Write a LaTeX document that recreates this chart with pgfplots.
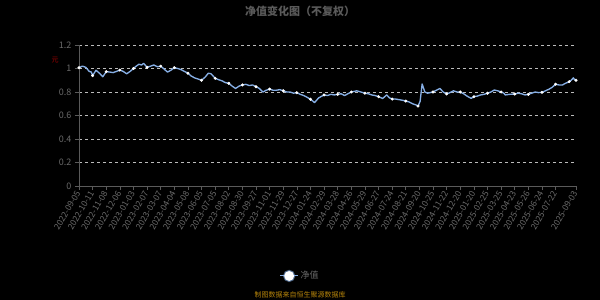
\documentclass[border=0pt]{standalone}
\usepackage{fontspec}
\setmainfont{Noto Sans CJK SC}
\usepackage{pgfplots}
\pgfplotsset{compat=1.18}
\definecolor{lineblue}{HTML}{86AEE4}
\definecolor{tickgray}{HTML}{6A6A6A}
\definecolor{axgray}{HTML}{5A5A5A}
\definecolor{gridgray}{HTML}{BBBBBB}
\definecolor{gold}{HTML}{B8860B}
\definecolor{darkred}{HTML}{A00000}
\begin{document}
\begin{tikzpicture}
\fill[black,use as bounding box] (0pt,0pt) rectangle (600pt,300pt);
\node[text=axgray,font=\fontsize{11}{11}\selectfont\bfseries] at (300pt,289pt) {净值变化图（不复权）};
\node[text=darkred,font=\fontsize{7}{7}\selectfont] at (55pt,240pt) {元};
\node[text=gold,font=\fontsize{7}{7}\selectfont] at (300pt,5pt) {制图数据来自恒生聚源数据库};
\begin{axis}[
  at={(79pt,114pt)}, anchor=south west,
  scale only axis, width=497pt, height=141pt,
  xmin=0, xmax=36.5, ymin=0, ymax=1.2,
  axis x line=bottom, axis y line=left,
  axis line style={-, axgray, line width=0.8pt},
  tick align=outside, major tick length=4pt,
  tick style={axgray, line width=0.6pt},
  xtick={0,1,2,3,4,5,6,7,8,9,10,11,12,13,14,15,16,17,18,19,20,21,22,23,24,25,26,27,28,29,30,31,32,33,34,35,36.5},
  xticklabels={2022-09-05,2022-10-11,2022-11-08,2022-12-06,2023-01-03,2023-02-07,2023-03-07,2023-04-04,2023-05-08,2023-06-05,2023-07-05,2023-08-02,2023-08-30,2023-09-27,2023-11-01,2023-11-29,2023-12-27,2024-01-24,2024-02-29,2024-03-28,2024-04-26,2024-05-29,2024-06-27,2024-07-24,2024-08-21,2024-09-20,2024-10-25,2024-11-22,2024-12-20,2025-01-20,2025-02-25,2025-03-25,2025-04-23,2025-05-26,2025-06-24,2025-07-22,2025-09-03},
  x tick label style={rotate=60, anchor=east, font=\fontsize{8.5}{8.5}\selectfont, text=tickgray, inner sep=1.5pt},
  ytick={0,0.2,0.4,0.6,0.8,1,1.2},
  yticklabels={0,0.2,0.4,0.6,0.8,1,1.2},
  y tick label style={font=\fontsize{9}{9}\selectfont, text=tickgray},
  ymajorgrids, grid style={gridgray, dashed, line width=0.6pt},
  legend style={at={(0.445,-0.638)}, anchor=center, draw=none, fill=none, text=tickgray, font=\fontsize{9}{9}\selectfont},
  legend image code/.code={
    \draw[lineblue, line width=1pt] (0pt,0pt) -- (18pt,0pt);
    \fill[lineblue, opacity=0.5] (9pt,0pt) circle (5.5pt);
    \fill[white] (9pt,0pt) circle (4.2pt);
  },
]
\addplot[lineblue, line width=1.35pt, mark=none, line join=round] coordinates {
(0,1.007) (0.25,1.02) (0.5,1.01) (0.75,0.975) (0.9,0.97) (1,0.94) (1.25,0.985) (1.5,0.96) (1.75,0.93)
(2,0.973) (2.25,0.97) (2.5,0.965) (2.75,0.975) (3,0.987) (3.25,0.975) (3.5,0.955) (3.75,0.975)
(4,1.0) (4.2,1.02) (4.4,1.036) (4.6,1.03) (4.75,1.044) (5,1.01) (5.25,1.02) (5.5,1.03) (5.75,1.015)
(6,1.02) (6.25,0.995) (6.5,0.97) (6.75,0.985) (7,1.007) (7.25,1.0) (7.5,0.99) (7.75,0.975)
(8,0.96) (8.25,0.935) (8.5,0.92) (8.75,0.91) (9,0.90) (9.25,0.925) (9.5,0.96) (9.7,0.955)
(10,0.917) (10.25,0.905) (10.5,0.895) (10.75,0.88) (11,0.874) (11.25,0.85) (11.5,0.83) (11.75,0.85)
(12,0.86) (12.25,0.865) (12.5,0.855) (12.75,0.86) (13,0.845) (13.25,0.83) (13.5,0.80) (13.75,0.815)
(14,0.825) (14.25,0.815) (14.5,0.815) (14.75,0.82) (15,0.81) (15.25,0.80) (15.5,0.80) (15.75,0.79)
(16,0.794) (16.25,0.78) (16.5,0.77) (16.75,0.755) (17,0.738) (17.15,0.725) (17.3,0.71) (17.6,0.75)
(18,0.775) (18.25,0.77) (18.5,0.78) (18.75,0.775) (19,0.78) (19.25,0.785) (19.5,0.77) (19.75,0.785)
(20,0.80) (20.4,0.81) (20.7,0.80) (21,0.79) (21.25,0.785) (21.5,0.775) (21.75,0.77)
(22,0.76) (22.3,0.745) (22.6,0.775) (22.8,0.75) (23,0.74) (23.25,0.74) (23.5,0.735) (23.75,0.73)
(24,0.723) (24.25,0.715) (24.5,0.70) (24.75,0.69) (24.9,0.68) (25.05,0.72) (25.2,0.868) (25.4,0.80)
(25.6,0.79) (26,0.80) (26.25,0.815) (26.5,0.83) (26.75,0.80) (27,0.783) (27.25,0.795) (27.5,0.81) (27.75,0.80)
(28,0.80) (28.25,0.785) (28.5,0.765) (28.8,0.746) (29,0.76) (29.25,0.765) (29.5,0.775) (29.75,0.78)
(30,0.79) (30.25,0.80) (30.5,0.817) (30.75,0.81) (31,0.80) (31.2,0.79) (31.3,0.775) (31.6,0.78)
(32,0.783) (32.25,0.79) (32.5,0.785) (32.75,0.775) (33,0.78) (33.25,0.79) (33.5,0.80) (33.75,0.795)
(34,0.797) (34.25,0.81) (34.5,0.823) (34.75,0.84) (35,0.866) (35.25,0.86) (35.5,0.86) (35.75,0.875)
(36,0.888) (36.15,0.90) (36.3,0.92) (36.4,0.905) (36.5,0.90)
};
\addlegendentry{净值}
\addplot[only marks, mark=*, mark size=1.3pt, mark options={fill=white, draw=white}, forget plot] coordinates {
(0,1.007) (1,0.94) (2,0.973) (3,0.987) (4,1.0) (5,1.01) (6,1.02) (7,1.007) (8,0.96) (9,0.90)
(10,0.917) (11,0.874) (12,0.86) (13,0.845) (14,0.825) (15,0.81) (16,0.794) (17,0.738) (18,0.775) (19,0.78)
(20,0.80) (21,0.79) (22,0.76) (23,0.74) (24,0.723) (24.9,0.68) (26,0.80) (27,0.783) (28,0.80) (29,0.76)
(30,0.79) (31,0.80) (32,0.783) (33,0.78) (34,0.797) (35,0.866) (36,0.888) (36.5,0.90)
};
\end{axis}
\end{tikzpicture}
\end{document}
